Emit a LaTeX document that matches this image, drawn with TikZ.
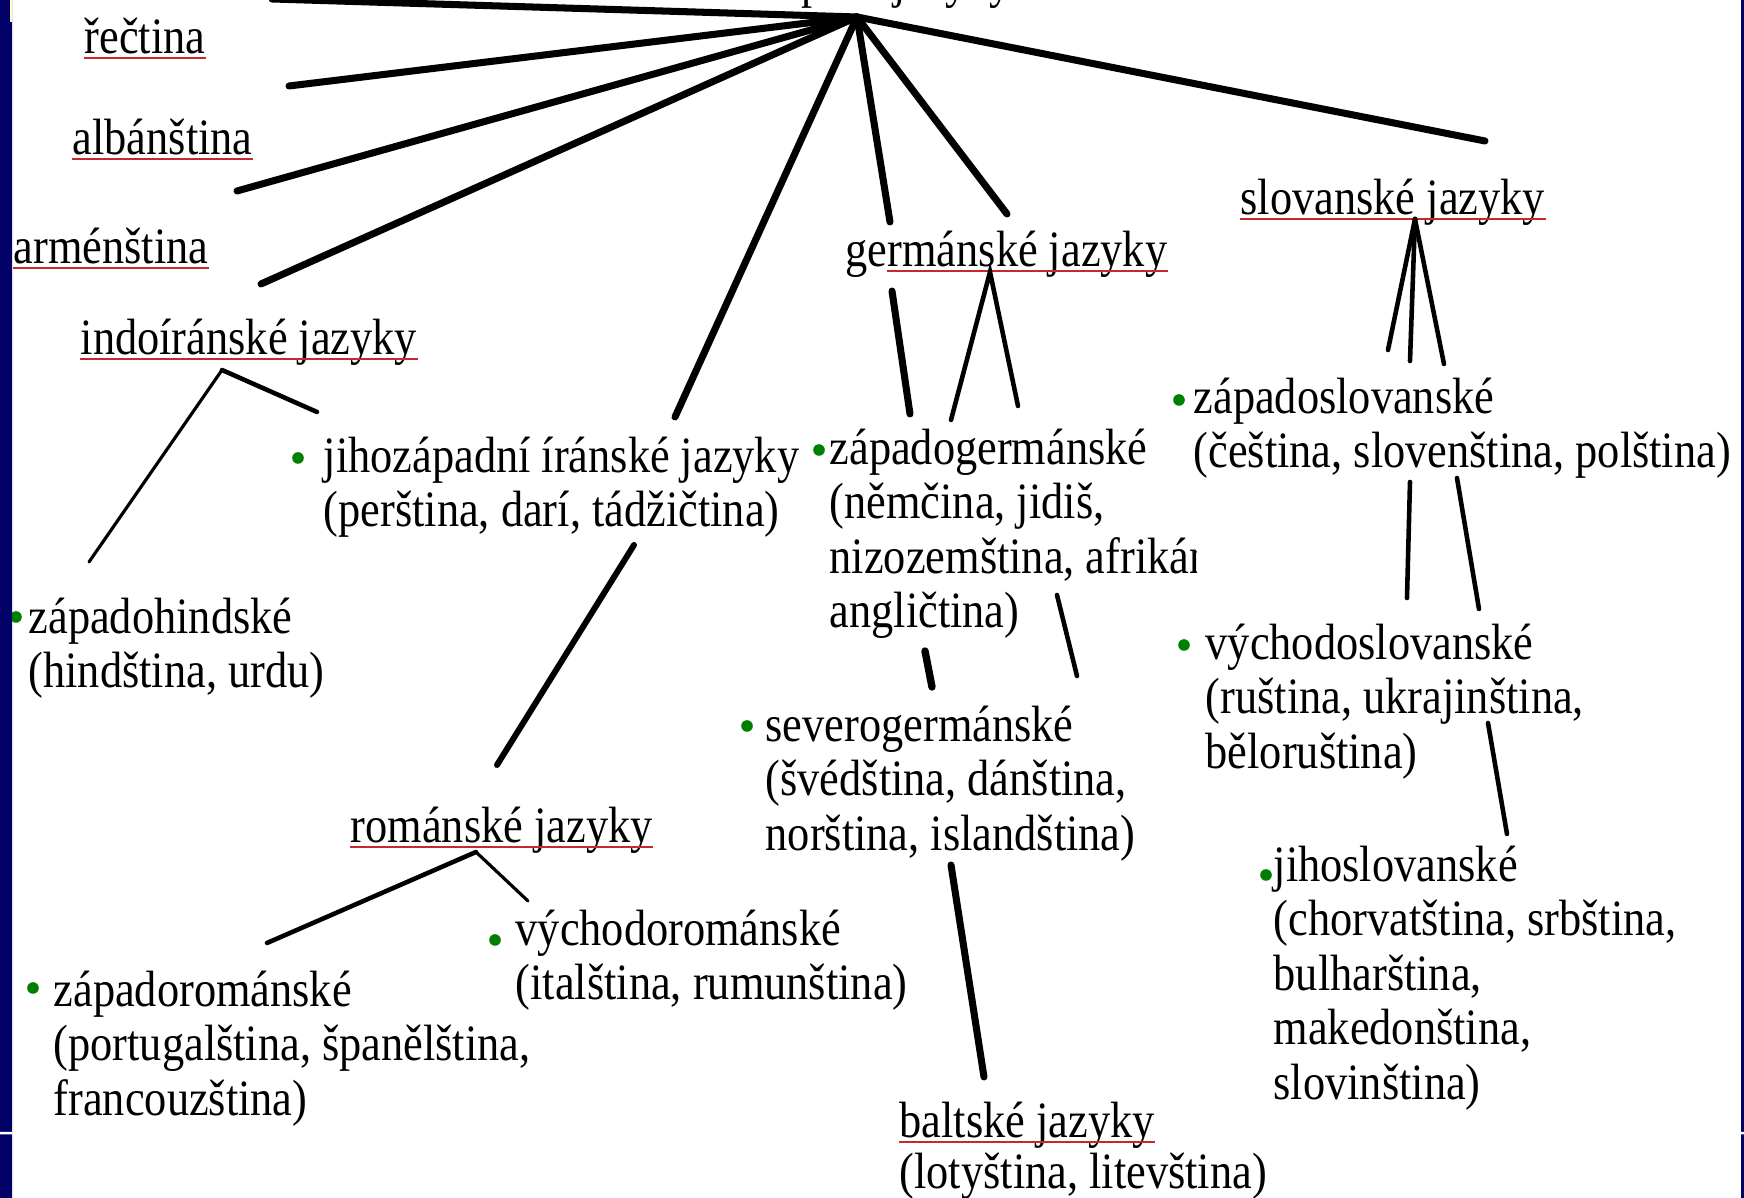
\documentclass[tikz,border=0pt]{standalone}
\usepackage{fontspec}
\setmainfont{Liberation Serif}[FakeStretch=0.87]
\definecolor{slideblue}{RGB}{0,0,102}
\definecolor{bulletgreen}{RGB}{0,128,0}
\definecolor{spellred}{RGB}{200,40,45}
\definecolor{paleyellow}{RGB}{255,255,204}
\begin{document}
\begin{tikzpicture}[x=0.01cm,y=0.01cm,
        lbl/.style={anchor=base west,inner sep=0pt,align=left,yshift=-0.045cm,font=\fontsize{14.5}{15.5}\selectfont},
        spell/.style={draw=spellred,line width=0.6pt},
        radial/.style={line width=2pt,line cap=round},
        branch/.style={line width=1.3pt,line cap=round},
        twig/.style={line width=0.9pt,line cap=round}]
        \useasboundingbox(0,0)rectangle(1744,-1198);
        % texts (multi-line nodes sit on the baseline of their last line)
        \node[lbl](root)at(643,7){indoevropské jazyky};
        \node[lbl](rec)at(84,-49){řečtina};
        \node[lbl](alb)at(72,-150){albánština};
        \node[lbl](arm)at(13,-259){arménština};
        \node[lbl](indo)at(80,-350){indoíránské jazyky};
        \node[lbl](germ)at(845,-262){germánské jazyky};
        \node[lbl](slov)at(1240,-210){slovanské jazyky};
        \node[lbl](zslov)at(1193,-463.5){západoslovanské\\(čeština, slovenština, polština)};
        \node[lbl](jzir)at(323,-522.5){jihozápadní íránské jazyky\\(perština, darí, tádžičtina)};
        \begin{scope}
            \clip(0,0)rectangle(1196,-1198);
            \node[lbl](zgerm)at(829,-623.5){západogermánské\\(němčina, jidiš,\\nizozemština, afrikánština,\\angličtina)};
        \end{scope}
        \node[lbl](zhind)at(28,-683.5){západohindské\\(hindština, urdu)};
        \node[lbl](sgerm)at(765,-846){severogermánské\\(švédština, dánština,\\norština, islandština)};
        \node[lbl](vslov)at(1205,-764){východoslovanské\\(ruština, ukrajinština,\\běloruština)};
        \node[lbl](rom)at(350,-838){románské jazyky};
        \node[lbl](vrom)at(515,-995.5){východorománské\\(italština, rumunština)};
        \node[lbl](zrom)at(53,-1111){západorománské\\(portugalština, španělština,\\francouzština)};
        \node[lbl](jslov)at(1273,-1095){jihoslovanské\\(chorvatština, srbština,\\bulharština,\\makedonština,\\slovinština)};
        \node[lbl](balt)at(899,-1133){baltské jazyky};
        \node[lbl](baltx)at(899,-1184){(lotyština, litevština)};
        % red underlines
        \foreach \n in {rec,alb,arm,indo,slov,rom,balt}
            \draw[spell]([yshift=-1.3pt]\n.base west)--([yshift=-1.3pt]\n.base east);
        \draw[spell]([xshift=0.42cm,yshift=-1.3pt]germ.base west)--([yshift=-1.3pt]germ.base east);
        \foreach \p in {(1179,-400),(298,-458),(819,-450),(16,-617),(747,-726),(1184,-645),(495,-940),(33,-988),(1266,-875)}
            \fill[bulletgreen]\p circle[radius=0.058cm];
        % slide edges
        \fill[slideblue](0,0)rectangle(12,-1198)(1741,0)rectangle(1744,-1198);
        \fill[paleyellow](10,0)rectangle(12,-22);
        \fill[white](0,-1132)rectangle(12,-1134.5)(1741,-1132)rectangle(1744,-1134.5);
        % lines from the top
        \coordinate(hub)at(857,-17);
        \path(272,1)coordinate(r1)(289,-86)coordinate(r2)(237,-191)coordinate(r3)(261,-284)coordinate(r4)
            (675,-417)coordinate(r5)(890,-222)coordinate(r6)(1007,-214)coordinate(r7)(1485,-141)coordinate(r8);
        \foreach \i in {1,...,8}
            \draw[radial](hub)--(r\i);
        % germanic
        \path(892,-291)coordinate(g1)(910,-414)coordinate(g2)(990,-272)coordinate(gtop)(951,-420)coordinate(g3)(1018,-406)coordinate(g4);
        \draw[radial](g1)--(g2);
        \draw[branch](g3)--(gtop)--(g4);
        \path(925,-651)coordinate(g5)(932,-687)coordinate(g6)(1057,-595)coordinate(g7)(1077,-676)coordinate(g8);
        \draw[line width=2.1pt,line cap=round](g5)--(g6);
        \draw[branch](g7)--(g8);
        \path(951,-865)coordinate(b1)(984,-1077)coordinate(b2);
        \draw[radial](b1)--(b2);
        % iranian, romance
        \path(634,-545)coordinate(j1)(497,-765)coordinate(j2);
        \draw[line width=1.7pt,line cap=round](j1)--(j2);
        \path(222,-370)coordinate(itop)(89,-562)coordinate(i1)(317,-412)coordinate(i2);
        \draw[twig](itop)--(i1);
        \draw[branch](itop)--(i2);
        \path(476,-852)coordinate(rtop)(267,-943)coordinate(ro1)(528,-901)coordinate(ro2);
        \draw[branch](rtop)--(ro1);
        \draw[twig](rtop)--(ro2);
        % slavic
        \path(1415,-219)coordinate(stop)(1388,-350)coordinate(s1)(1410,-361)coordinate(s2)(1444,-364)coordinate(s3);
        \foreach \i in {1,2,3}
            \draw[branch](stop)--(s\i);
        \path(1410,-482)coordinate(s4)(1407,-598)coordinate(s5)(1457,-478)coordinate(s6)(1479,-609)coordinate(s7)
            (1488,-723)coordinate(s8)(1507,-834)coordinate(s9);
        \draw[branch](s4)--(s5)(s6)--(s7)(s8)--(s9);
    \end{tikzpicture}
\end{document}
